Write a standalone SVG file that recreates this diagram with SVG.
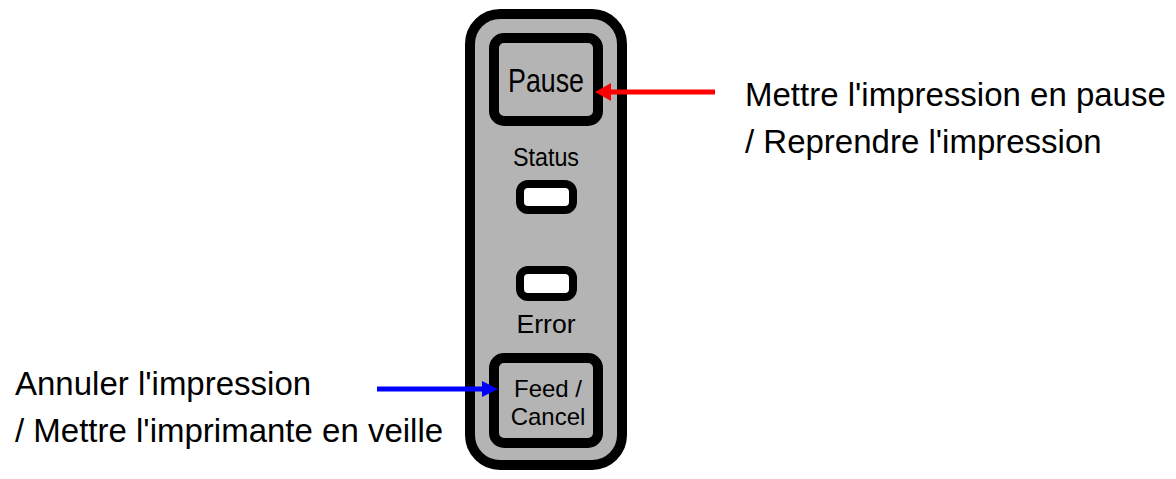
<svg xmlns="http://www.w3.org/2000/svg" width="1176" height="479" viewBox="0 0 1176 479">
<style>
.panel{fill:#b4b4b4;stroke:#000;stroke-width:10}
.btn{fill:#b4b4b4;stroke:#000;stroke-width:10}
.led{fill:#fff;stroke:#000;stroke-width:8}
.pt{font-family:"Liberation Sans",Arial,sans-serif;fill:#000;text-anchor:middle}
.lbl{font-family:"Liberation Sans",Arial,sans-serif;font-size:33px;fill:#000}
</style>
<rect width="1176" height="479" fill="#fff"/>
<g id="panel">
<rect class="panel" x="470" y="14" width="152" height="451" rx="30"/>
</g>
<g id="pause-button">
<rect class="btn" x="494" y="38" width="104" height="83" rx="10"/>
<text class="pt" x="546" y="92" font-size="34" textLength="76" lengthAdjust="spacingAndGlyphs">Pause</text>
</g>
<g id="status-led">
<text class="pt" x="546" y="166" font-size="26" textLength="66" lengthAdjust="spacingAndGlyphs">Status</text>
<rect class="led" x="520" y="184" width="53" height="26" rx="8"/>
</g>
<g id="error-led">
<rect class="led" x="520" y="270" width="53" height="27" rx="8"/>
<text class="pt" x="546" y="333" font-size="26" textLength="59" lengthAdjust="spacingAndGlyphs">Error</text>
</g>
<g id="feed-button">
<rect class="btn" x="494" y="358" width="104" height="85" rx="10"/>
<text class="pt" x="548" y="397" font-size="24">Feed /</text>
<text class="pt" x="548" y="424.5" font-size="24">Cancel</text>
</g>
<g id="label-pause">
<text class="lbl" x="745" y="106">Mettre l'impression en pause</text>
<text class="lbl" x="745" y="153">/ Reprendre l'impression</text>
</g>
<g id="label-feed">
<text class="lbl" x="15" y="395">Annuler l'impression</text>
<text class="lbl" x="15" y="442">/ Mettre l'imprimante en veille</text>
</g>
<g id="connectors">
<line x1="715" y1="92" x2="609" y2="92" stroke="#ff0000" stroke-width="5"/>
<polygon points="595,92 611,83 611,101" fill="#ff0000"/>
<line x1="377" y1="389" x2="484" y2="389" stroke="#0000ff" stroke-width="5"/>
<polygon points="498,389 482,381 482,397" fill="#0000ff"/>
</g>
</svg>
